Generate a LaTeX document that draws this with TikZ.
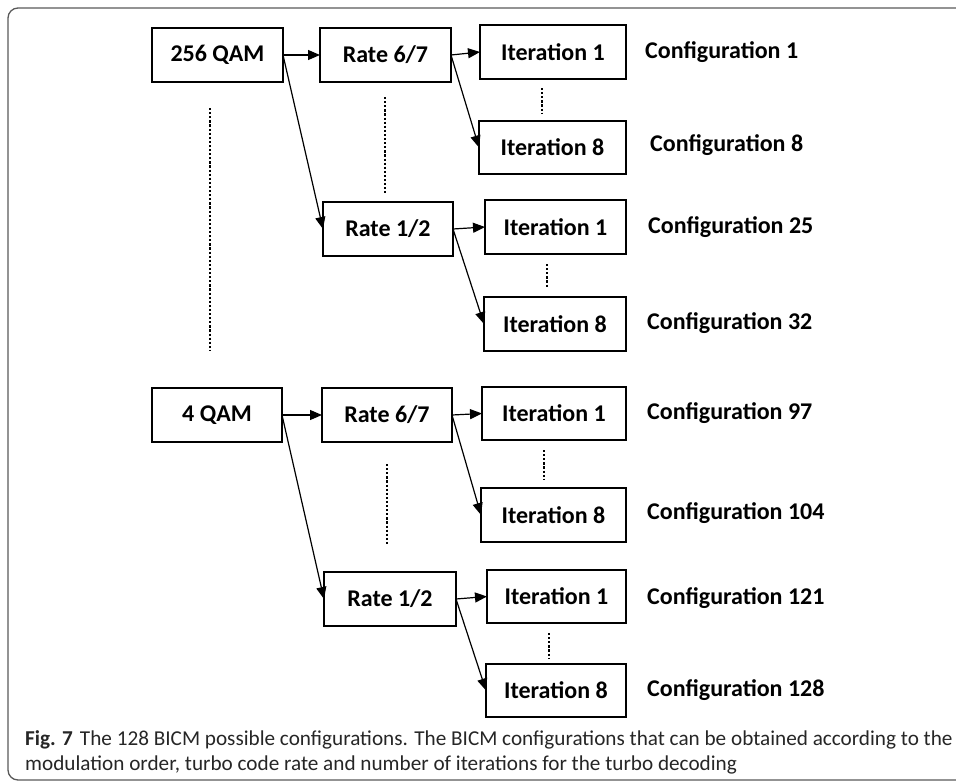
\documentclass[tikz,border=0pt]{standalone}
\usepackage{fontspec}
\setmainfont{Carlito}
\usetikzlibrary{arrows.meta}
\begin{document}
\begin{tikzpicture}[x=1pt,y=-1pt,
  blk/.style={draw, line width=1.4pt, inner sep=0pt, outer sep=0pt,
    font=\fontsize{24}{28}\selectfont\bfseries},
  cfg/.style={anchor=west, inner sep=0pt, font=\fontsize{24}{28}\selectfont\bfseries},
  arr/.style={line width=1.2pt, -{Triangle[length=12pt,width=10pt]}},
  dots/.style={line width=2.8pt, dash pattern=on 2.2pt off 1.9pt},
  captext/.style={anchor=west, inner sep=0pt, text=black!85, font=\fontsize{21.2}{25}\selectfont}]
\useasboundingbox (0,0) rectangle (956,782);
% outer frame, open on the right
\draw[line width=1.3pt, gray!70!black, rounded corners=10pt] (975,8) -- (8,8) -- (8,780) -- (975,780);

% 256 QAM branch
\node[blk, minimum width=131pt, minimum height=54pt] (q256) at (217.5,55) {256 QAM};
\node[blk, minimum width=131pt, minimum height=54pt] (r67a) at (385.5,55) {Rate 6/7};
\node[blk, minimum width=146pt, minimum height=54pt] (i1a) at (553,52) {Iteration 1};
\node[blk, minimum width=147pt, minimum height=53pt] (i8a) at (552.5,147.5) {Iteration 8};
\node[blk, minimum width=130pt, minimum height=54pt] (r12a) at (388,229) {Rate 1/2};
\node[blk, minimum width=141pt, minimum height=54pt] (i1b) at (555.5,227) {Iteration 1};
\node[blk, minimum width=142pt, minimum height=54pt] (i8b) at (555,324) {Iteration 8};

% 4 QAM branch
\node[blk, minimum width=130pt, minimum height=54pt] (q4) at (217,415) {4 QAM};
\node[blk, minimum width=130pt, minimum height=54pt] (r67b) at (387,415) {Rate 6/7};
\node[blk, minimum width=144pt, minimum height=53pt] (i1c) at (554,413.5) {Iteration 1};
\node[blk, minimum width=145pt, minimum height=54pt] (i8c) at (553.5,515) {Iteration 8};
\node[blk, minimum width=132pt, minimum height=54pt] (r12b) at (390,599) {Rate 1/2};
\node[blk, minimum width=139pt, minimum height=53pt] (i1d) at (556.5,596.5) {Iteration 1};
\node[blk, minimum width=140pt, minimum height=53pt] (i8d) at (556,690.5) {Iteration 8};

% configuration labels
\node[cfg] (c1) at (645,52) {Configuration 1};
\node[cfg] (c8) at (650,145) {Configuration 8};
\node[cfg] (c25) at (648,227) {Configuration 25};
\node[cfg] (c32) at (647,323) {Configuration 32};
\node[cfg] (c97) at (647,413) {Configuration 97};
\node[cfg] (c104) at (647,513) {Configuration 104};
\node[cfg] (c121) at (647,598) {Configuration 121};
\node[cfg] (c128) at (647,690) {Configuration 128};

% connectors
\draw[arr] (q256.east) -- (r67a.west);
\draw[arr] (q256.east) -- (r12a.west);
\draw[arr] (r67a.east) -- (i1a.west);
\draw[arr] (r67a.east) -- (i8a.west);
\draw[arr] (r12a.east) -- (i1b.west);
\draw[arr] (r12a.east) -- (i8b.west);
\draw[arr] (q4.east) -- (r67b.west);
\draw[arr] (q4.east) -- (r12b.west);
\draw[arr] (r67b.east) -- (i1c.west);
\draw[arr] (r67b.east) -- (i8c.west);
\draw[arr] (r12b.east) -- (i1d.west);
\draw[arr] (r12b.east) -- (i8d.west);

% ellipsis dots
\draw[dots] (210,108) -- (210,350);
\draw[dots] (385,97) -- (385,193);
\draw[dots] (387,464) -- (387,544);
\draw[dots] (542,88) -- (542,113);
\draw[dots] (547,264) -- (547,288);
\draw[dots] (544,450) -- (544,479);
\draw[dots] (549,633) -- (549,658);

% caption
\node[captext] (cap1) at (25,740) {\textbf{Fig. 7}\hspace{7pt}The 128 BICM possible configurations. The BICM configurations that can be obtained according to the};
\node[captext] (cap2) at (25,765) {modulation order, turbo code rate and number of iterations for the turbo decoding};
\end{tikzpicture}
\end{document}
